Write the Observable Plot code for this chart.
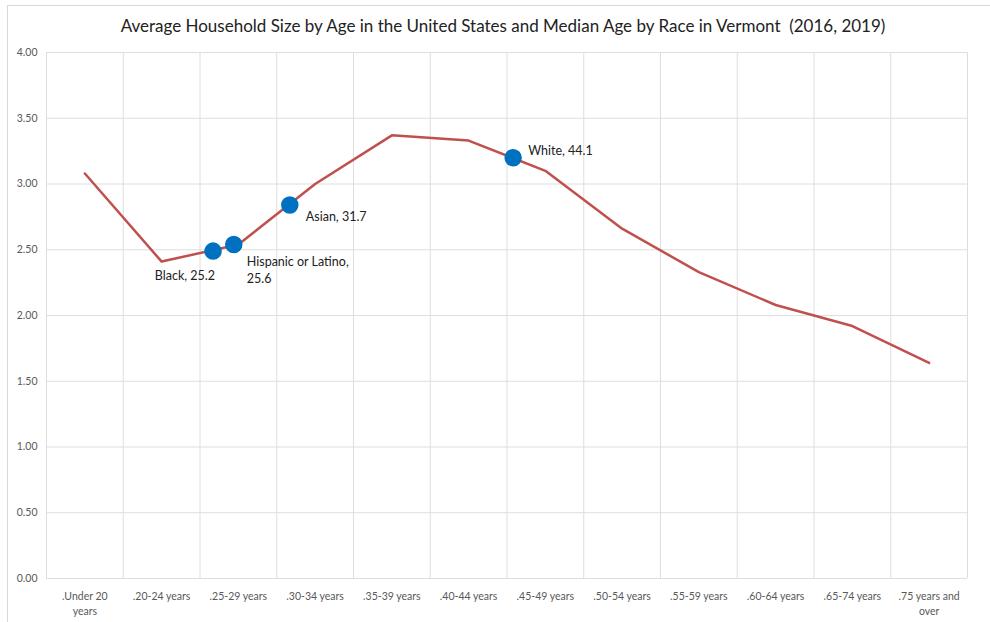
<!DOCTYPE html>
<html>
<head>
<meta charset="utf-8">
<script src="https://cdn.jsdelivr.net/npm/d3@7"></script>
<script src="https://cdn.jsdelivr.net/npm/@observablehq/plot@0.6"></script>
<style>
  html, body { margin: 0; padding: 0; background: #fff; }
  #wrap { position: relative; width: 990px; height: 622px; overflow: hidden; font-family: Lato, "Open Sans", sans-serif; }
  #frame { position: absolute; left: 7px; top: 5px; width: 1000px; height: 640px; border: 1px solid #d9d9d9; box-sizing: border-box; }
  #title { position: absolute; left: 0; top: 15px; width: 1006px; text-align: center; font-size: 17px; color: #222; white-space: pre; }
  #chart { position: absolute; left: 0; top: 0; }
</style>
</head>
<body>
<div id="wrap">
  <div id="frame"></div>
  <div id="chart"></div>
  <div id="title">Average Household Size by Age in the United States and Median Age by Race in Vermont  (2016, 2019)</div>
</div>
<script>
const ageGroups = [".Under 20\nyears", ".20-24 years", ".25-29 years", ".30-34 years", ".35-39 years", ".40-44 years", ".45-49 years", ".50-54 years", ".55-59 years", ".60-64 years", ".65-74 years", ".75 years and\nover"];
const householdSize = [3.08, 2.41, 2.54, 3.00, 3.37, 3.33, 3.10, 2.66, 2.33, 2.08, 1.92, 1.64];

const raceNames = ["Black", "Hispanic or Latino", "Asian", "White"];
const raceLabels = ["Black, 25.2", "Hispanic or Latino,\n25.6", "Asian, 31.7", "White, 44.1"];
const racePosition = [1.67, 1.94, 2.67, 5.58];
const raceSize = [2.49, 2.54, 2.84, 3.20];

const yTicks = [0, 0.5, 1, 1.5, 2, 2.5, 3, 3.5, 4];

const lineData = ageGroups.map((g, i) => ({i, v: householdSize[i]}));
const raceData = raceNames.map((r, k) => ({race: r, label: raceLabels[k], x: racePosition[k], y: raceSize[k]}));
const bounds = d3.range(-0.5, 12, 1);

const fontFam = 'Lato, "Open Sans", sans-serif';
const lbl = (name) => raceData.filter(d => d.race === name);

const chart = Plot.plot({
  width: 990,
  height: 622,
  marginLeft: 46,
  marginRight: 23,
  marginTop: 52,
  marginBottom: 44,
  style: {fontFamily: fontFam, background: "transparent"},
  x: {type: "linear", domain: [-0.5, 11.5]},
  y: {domain: [0, 4]},
  marks: [
    Plot.ruleY(yTicks, {stroke: "#dedede", strokeWidth: 1}),
    Plot.ruleX(bounds, {stroke: "#dedede", strokeWidth: 1}),
    Plot.axisY({ticks: yTicks, tickFormat: d => d.toFixed(2), tickSize: 0, tickPadding: 9, fontSize: 10.5, fill: "#595959", label: null}),
    Plot.axisX({ticks: d3.range(12), tickFormat: i => ageGroups[i], tickSize: 0, tickPadding: 11, fontSize: 10.5, fill: "#595959", label: null, lineHeight: 1.4}),
    Plot.line(lineData, {x: "i", y: "v", stroke: "#c0504d", strokeWidth: 2.5}),
    Plot.dot(raceData, {x: "x", y: "y", r: 8, fill: "#0070c0", stroke: "#0070c0"}),
    Plot.text(lbl("Black"), {x: "x", y: "y", text: "label", textAnchor: "end", dx: 2, dy: 25, fontSize: 12.5, fill: "#222"}),
    Plot.text(lbl("Hispanic or Latino"), {x: "x", y: "y", text: "label", textAnchor: "start", lineAnchor: "top", dx: 13, dy: 10, fontSize: 12.5, fill: "#222", lineHeight: 1.35}),
    Plot.text(lbl("Asian"), {x: "x", y: "y", text: "label", textAnchor: "start", dx: 16, dy: 12, fontSize: 12.5, fill: "#222"}),
    Plot.text(lbl("White"), {x: "x", y: "y", text: "label", textAnchor: "start", dx: 15, dy: -7, fontSize: 12.5, fill: "#222"})
  ]
});
document.getElementById("chart").appendChild(chart);
</script>
</body>
</html>
